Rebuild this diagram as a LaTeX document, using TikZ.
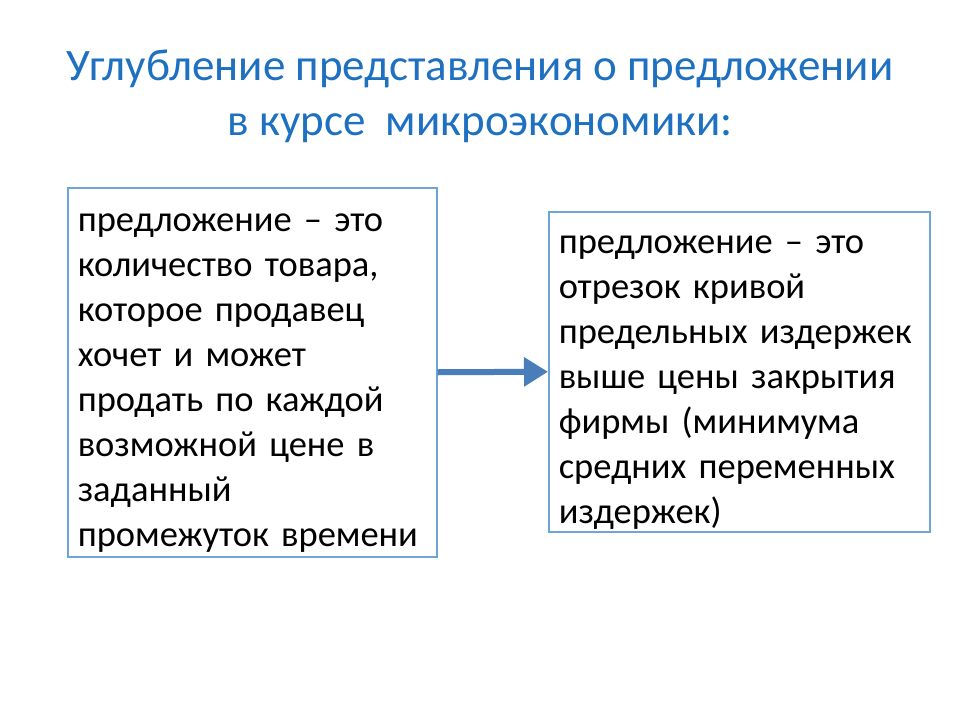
\documentclass[tikz,border=0pt]{standalone}
\usepackage{fontspec}
\setmainfont{Carlito}
\usetikzlibrary{arrows.meta}

\definecolor{titleblue}{RGB}{30,112,192}
\definecolor{boxblue}{RGB}{110,165,215}
\definecolor{arrowblue}{RGB}{74,126,187}

% extra room above the first line of a box
\newcommand{\firstline}{\rule{0pt}{39pt}}

\tikzstyle{defbox} = [draw=boxblue,line width=1.5pt,anchor=north west,align=left,inner xsep=10pt,inner ysep=0pt,font=\fontsize{36.5}{45}\selectfont]
\tikzstyle{heading} = [align=center,text=titleblue,font=\fontsize{45}{55}\selectfont]

\begin{document}
\begin{tikzpicture}[x=1pt,y=-1pt]
		\useasboundingbox[fill=white] (0,0) rectangle (960,720);
		\node[heading] (title) at (480,96) {Углубление представления о предложении\\в курсе\ \ микроэкономики:};
		\node[defbox,text width=349pt,minimum height=369pt] (n1) at (67,187) {\firstline предложение – это\\количество товара,\\которое продавец\\хочет и может\\продать по каждой\\возможной цене в\\заданный\\промежуток времени};
		\node[defbox,text width=361pt,minimum height=320pt] (n2) at (548,211) {\firstline предложение – это\\отрезок кривой\\предельных издержек\\выше цены закрытия\\фирмы (минимума\\средних переменных\\издержек)};
		\draw[-{Triangle[length=24pt,width=28pt]},line width=6pt,arrowblue] (n1.east) -- (n2.west);
		\end{tikzpicture}
\end{document}
